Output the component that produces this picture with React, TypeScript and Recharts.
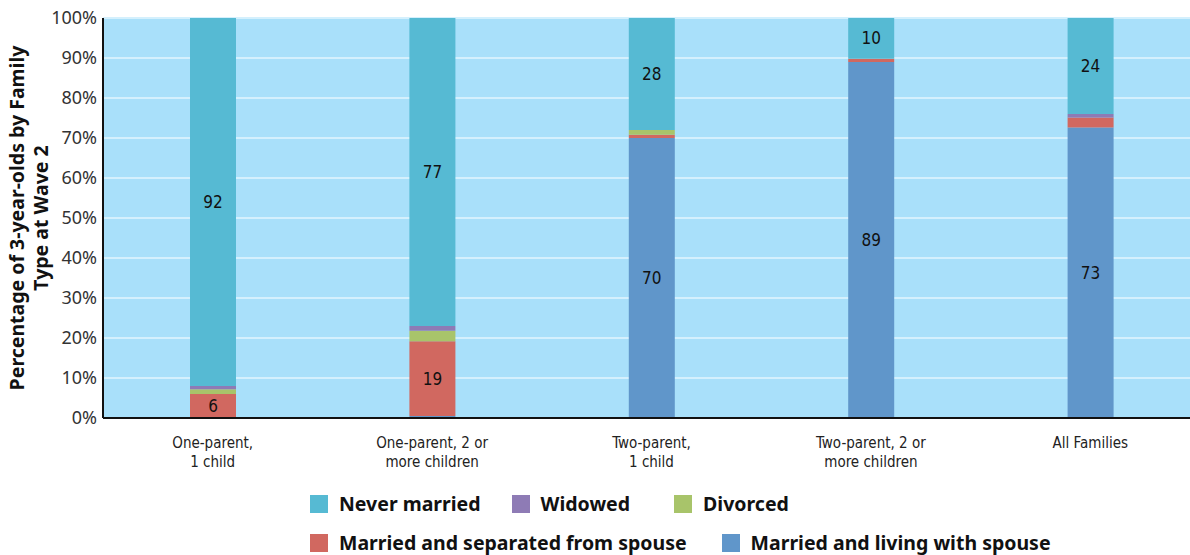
import { BarChart, Bar, XAxis, YAxis, CartesianGrid, LabelList, Label } from "recharts";

const categories = [
  ["One-parent,", "1 child"],
  ["One-parent, 2 or", "more children"],
  ["Two-parent,", "1 child"],
  ["Two-parent, 2 or", "more children"],
  ["All Families"],
];
const livingWithSpouse = [0, 0.5, 70, 89, 72.6];
const separated = [6, 18.7, 0.8, 0.8, 2.5];
const divorced = [1.2, 2.6, 1.2, 0, 0];
const widowed = [0.8, 1.2, 0, 0, 0.9];
const neverMarried = [92, 77, 28, 10.2, 24];
const yTicks = [0, 10, 20, 30, 40, 50, 60, 70, 80, 90, 100];

const series = [
  { key: "living", name: "Married and living with spouse", color: "#6096CA", values: livingWithSpouse },
  { key: "separated", name: "Married and separated from spouse", color: "#D16860", values: separated },
  { key: "divorced", name: "Divorced", color: "#A8C46A", values: divorced },
  { key: "widowed", name: "Widowed", color: "#8E7BB5", values: widowed },
  { key: "never", name: "Never married", color: "#56BAD3", values: neverMarried },
];

const data = categories.map((c, i) => {
  const row: Record<string, any> = { name: c.join(" "), lines: c };
  series.forEach((s) => (row[s.key] = s.values[i]));
  return row;
});

const condensed = "'DejaVu Sans', sans-serif";
const sans = "'Noto Sans', 'Open Sans', sans-serif";

const XTick = (props: any) => {
  const { x, y, payload } = props;
  const lines = categories[payload.index] || [payload.value];
  return (
    <text
      x={x}
      y={y + 22}
      textAnchor="middle"
      fontFamily={condensed}
      fontSize={15}
      fill="#222"
      style={{ fontStretch: "condensed" }}
    >
      {lines.map((l, i) => (
        <tspan key={i} x={x} dy={i === 0 ? 0 : 19}>
          {l}
        </tspan>
      ))}
    </text>
  );
};

const SegmentLabel = (props: any) => {
  const { x, y, width, height, value } = props;
  if (value == null || value < 4) return null;
  return (
    <text
      x={x + width / 2}
      y={y + height / 2 + 6}
      textAnchor="middle"
      fontFamily={condensed}
      fontSize={17}
      fill="#111"
      style={{ fontStretch: "condensed" }}
    >
      {Math.round(value)}
    </text>
  );
};

const YTitle = (props: any) => {
  const cy = props.viewBox.y + props.viewBox.height / 2;
  return (
    <text
      transform={`translate(24, ${cy}) rotate(-90)`}
      textAnchor="middle"
      fontFamily={sans}
      fontWeight="bold"
      fontSize={19.5}
      fill="#111"
    >
      <tspan x={0} dy={0}>Percentage of 3-year-olds by Family</tspan>
      <tspan x={0} dy={24}>Type at Wave 2</tspan>
    </text>
  );
};

// legend rows and the gap after each entry
const legendRows = [
  [["never", 31], ["widowed", 44], ["divorced", 0]],
  [["separated", 35], ["living", 0]],
] as [string, number][][];

export default function App() {
  return (
    <div style={{ position: "absolute", left: 0, top: 0, width: 1190, height: 555, overflow: "hidden", background: "#fff" }}>
      <BarChart
        width={1200}
        height={555}
        data={data}
        margin={{ top: 18, right: 0, left: 0, bottom: 77 }}
        barSize={46}
      >
        <CartesianGrid vertical={false} fill="#A9E0FA" stroke="#D4F0FD" strokeWidth={2} />
        <XAxis
          dataKey="name"
          height={60}
          tickLine={false}
          axisLine={{ stroke: "#111", strokeWidth: 2 }}
          tick={<XTick />}
          interval={0}
        />
        <YAxis
          width={103}
          domain={[0, 100]}
          ticks={yTicks}
          tickFormatter={(v) => `${v}%`}
          tickLine={false}
          axisLine={{ stroke: "#111", strokeWidth: 2 }}
          tick={{ fontFamily: sans, fontSize: 18, fill: "#333" }}
          tickMargin={0}
          allowDataOverflow
        >
          <Label content={<YTitle />} />
        </YAxis>
        {series.map((s) => (
          <Bar key={s.key} dataKey={s.key} name={s.name} stackId="a" fill={s.color} isAnimationActive={false}>
            <LabelList dataKey={s.key} content={<SegmentLabel />} />
          </Bar>
        ))}
      </BarChart>
      <div style={{ position: "absolute", left: 310, top: 484, fontFamily: sans, fontWeight: "bold", fontSize: 19.5, color: "#111" }}>
        {legendRows.map((row, ri) => (
          <div key={ri} style={{ display: "flex", alignItems: "center", height: 39, whiteSpace: "nowrap" }}>
            {row.map(([k, gap]) => {
              const s = series.find((x) => x.key === k)!;
              return (
                <div key={k} style={{ display: "flex", alignItems: "center", marginRight: gap }}>
                  <span style={{ width: 18, height: 18, background: s.color, display: "inline-block", marginRight: 11 }} />
                  <span>{s.name}</span>
                </div>
              );
            })}
          </div>
        ))}
      </div>
    </div>
  );
}
